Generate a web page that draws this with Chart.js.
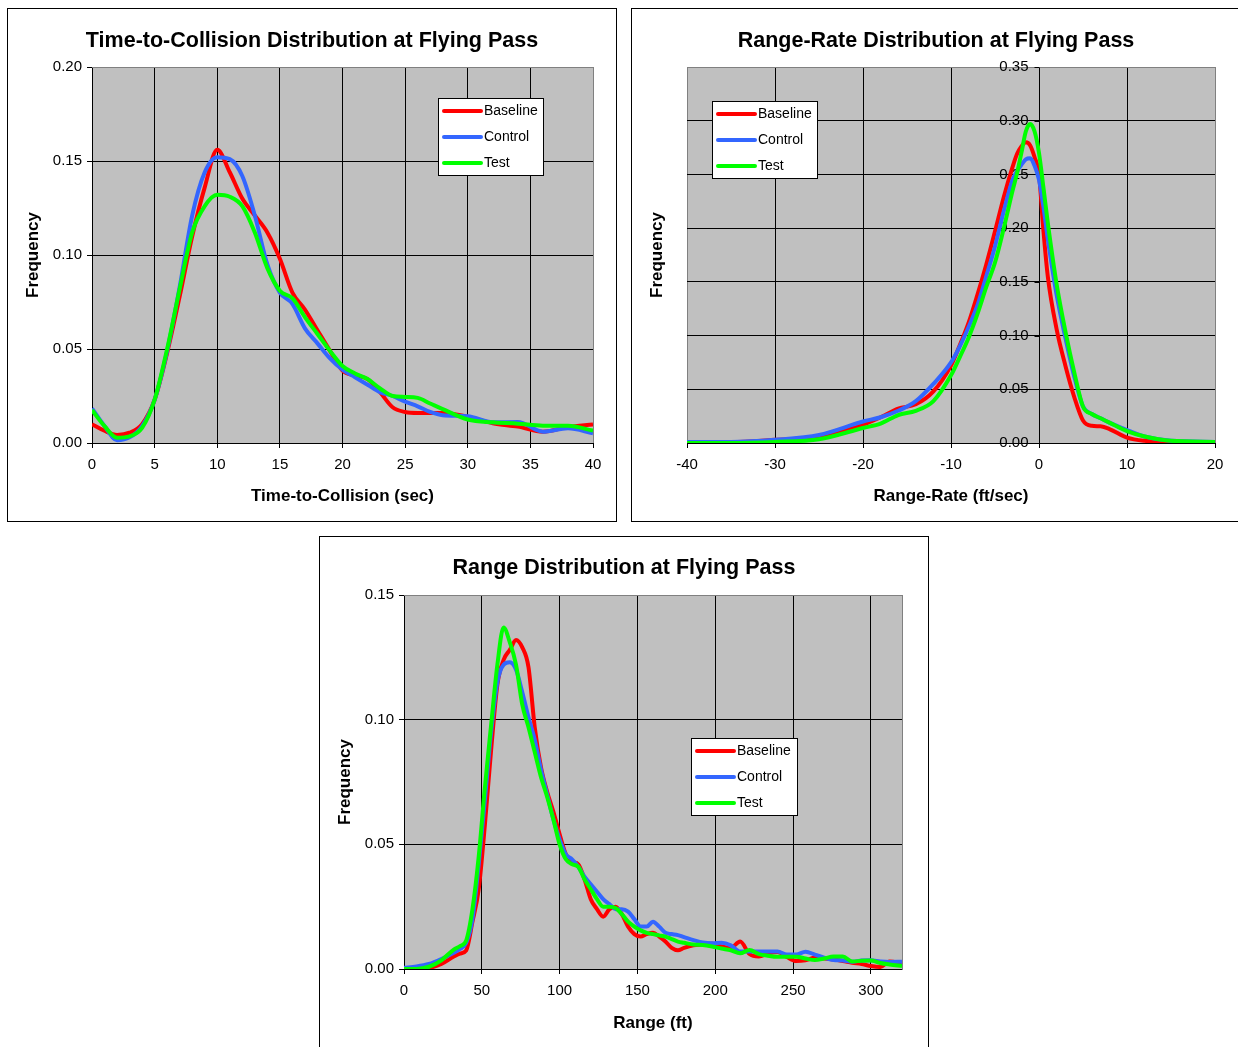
<!DOCTYPE html>
<html>
<head>
<meta charset="utf-8">
<title>Flying Pass Distributions</title>
<script src="https://cdn.jsdelivr.net/npm/chart.js@4.4.0/dist/chart.umd.min.js"></script>
<style>
  body { margin: 0; background: #fff; width: 1238px; height: 1047px; overflow: hidden; position: relative; }
  .panel { position: absolute; width: 610px; height: 514px; border: 1px solid #000; box-sizing: border-box; background: #fff; }
  .panel .wrap { position: relative; width: 100%; height: 100%; }
</style>
</head>
<body>
<div class="panel" style="left:7px; top:8px;"><div class="wrap"><canvas id="ttcChart"></canvas></div></div>
<div class="panel" style="left:631px; top:8px;"><div class="wrap"><canvas id="rateChart"></canvas></div></div>
<div class="panel" style="left:319px; top:536px;"><div class="wrap"><canvas id="rangeChart"></canvas></div></div>

<script>
const seriesNames = ["Baseline", "Control", "Test"];
const seriesColors = ["#ff0000", "#3366ff", "#00ff00"];

// time-to-collision (sec)
const ttcXTicks = [0, 5, 10, 15, 20, 25, 30, 35, 40];
const ttcYTicks = [0, 0.05, 0.10, 0.15, 0.20];
const ttcX = [0,1,2,3,4,5,6,7,8,9,10,11,12,13,14,15,16,17,18,19,20,21,22,23,24,25,26,27,28,30,32,34,36,38,40];
const ttcBaseline = [0.0100,0.0065,0.0043,0.0055,0.0100,0.0230,0.0480,0.0780,0.1100,0.1360,
  0.1560,0.1440,0.1300,0.1210,0.1120,0.0980,0.0800,0.0710,0.0600,0.0490,
  0.0385,0.0360,0.0340,0.0270,0.0190,0.0165,0.0160,0.0160,0.0160,
  0.0140,0.0105,0.0087,0.0060,0.0085,0.0099];
const ttcControl = [0.0184,0.0090,0.0015,0.0030,0.0090,0.0230,0.0490,0.0830,0.1210,0.1440,
  0.1520,0.1510,0.1420,0.1210,0.0950,0.0800,0.0740,0.0610,0.0530,0.0450,
  0.0390,0.0350,0.0310,0.0270,0.0250,0.0220,0.0195,0.0165,0.0148,
  0.0142,0.0110,0.0112,0.0060,0.0078,0.0052];
const ttcTest = [0.0175,0.0090,0.0028,0.0035,0.0080,0.0230,0.0500,0.0820,0.1120,0.1260,
  0.1320,0.1310,0.1260,0.1120,0.0930,0.0810,0.0770,0.0670,0.0580,0.0490,
  0.0410,0.0370,0.0340,0.0290,0.0250,0.0245,0.0240,0.0210,0.0180,
  0.0125,0.0110,0.0103,0.0092,0.0092,0.0066];

// range-rate (ft/sec)
const rateXTicks = [-40, -30, -20, -10, 0, 10, 20];
const rateYTicks = [0, 0.05, 0.10, 0.15, 0.20, 0.25, 0.30, 0.35];
const rateX = [-40,-35,-30,-25,-20,-18,-16,-14,-12,-10,-9,-8,-7,-6,-5,-4,-3,-2.5,-2,-1.5,-1,-0.5,0,0.5,1,2,3,4,5,6,7,8,10,12,15,20];
const rateBaseline = [0.001,0.001,0.003,0.006,0.017, 0.024,0.032,0.036,0.048,0.072,
  0.091,0.112,0.138,0.166,0.197, 0.229,0.257,0.269,0.276,0.280,
  0.277,0.266,0.250,0.198,0.155, 0.106,0.072,0.043,0.021,0.016,
  0.0155,0.013,0.005,0.002,0.001, 0.0005];
const rateControl = [0.001,0.001,0.003,0.0075,0.020, 0.024,0.030,0.039,0.055,0.075,
  0.090,0.108,0.128,0.155,0.183, 0.216,0.245,0.253,0.259,0.264,
  0.265,0.258,0.245,0.220,0.190, 0.138,0.098,0.062,0.034,0.027,
  0.023,0.019,0.012,0.006,0.002, 0.001];
const rateTest = [0.000,0.000,0.001,0.0035,0.014, 0.018,0.026,0.030,0.039,0.063,
  0.080,0.098,0.120,0.145,0.168, 0.200,0.235,0.251,0.270,0.290,
  0.297,0.290,0.270,0.238,0.205, 0.148,0.104,0.066,0.034,0.027,
  0.023,0.019,0.011,0.006,0.002, 0.001];

// range (ft)
const rangeXTicks = [0, 50, 100, 150, 200, 250, 300];
const rangeYTicks = [0, 0.05, 0.10, 0.15];
const rangeX = [0,8,16,24,32,36,40,44,48,52,56,60,64,68,72,76,80,84,88,92,96,100,104,108,112,
  116,120,124,128,132,136,140,144,148,152,156,160,164,168,172,176,180,186,192,198,
  204,210,216,222,228,234,240,246,252,258,264,270,276,282,288,294,300,306,312,320];
const rangeBaseline = [0,0,0.0004,0.002,0.005, 0.0062,0.0075,0.019,0.032,0.058,
  0.088,0.114,0.124,0.128,0.132, 0.129,0.121,0.097,0.081,0.071,
  0.063,0.054,0.046,0.043,0.042, 0.036,0.028,0.024,0.021,0.024,
  0.025,0.022,0.017,0.014,0.013, 0.014,0.0145,0.013,0.011,0.0085,
  0.0075,0.0085,0.0095,0.0098,0.0102, 0.009,0.0085,0.011,0.006,0.005,
  0.0062,0.0068,0.0048,0.0032,0.0035, 0.0045,0.0042,0.0038,0.0032,0.0025,
  0.002,0.0012,0.0008,0.003,0.0023];
const rangeControl = [0.0005,0.001,0.002,0.004,0.0065, 0.008,0.0105,0.020,0.042,0.068,
  0.095,0.115,0.122,0.123,0.120, 0.111,0.101,0.092,0.080,0.070,
  0.060,0.052,0.046,0.044,0.041, 0.037,0.034,0.031,0.028,0.026,
  0.024,0.024,0.023,0.020,0.017, 0.017,0.019,0.017,0.0145,0.014,
  0.0136,0.0128,0.0116,0.0106,0.0103, 0.0105,0.0095,0.007,0.007,0.007,
  0.007,0.007,0.0058,0.0058,0.0069, 0.0058,0.0045,0.0036,0.0034,0.0029,
  0.0034,0.0035,0.003,0.0028,0.0029];
const rangeTest = [0,0,0.0009,0.0035,0.0078, 0.0092,0.0115,0.024,0.045,0.073,
  0.098,0.122,0.137,0.131,0.122, 0.106,0.097,0.087,0.077,0.069,
  0.060,0.050,0.044,0.042,0.041, 0.036,0.032,0.028,0.025,0.025,
  0.0245,0.022,0.019,0.017,0.0155, 0.0145,0.014,0.0135,0.013,0.012,
  0.011,0.0105,0.0098,0.0096,0.009, 0.0082,0.0075,0.0063,0.0076,0.006,
  0.0053,0.0049,0.0049,0.0049,0.0042, 0.0036,0.0042,0.005,0.005,0.003,
  0.0033,0.0034,0.0024,0.0018,0.0012];

const FAMILY = '"Liberation Sans", Arial, sans-serif';
Chart.defaults.font.family = FAMILY;
Chart.defaults.color = "#000";

// grey plot area with a thin grey frame
const plotFrame = {
  id: "plotFrame",
  beforeDraw(chart) {
    const { ctx, chartArea: a } = chart;
    ctx.save();
    ctx.fillStyle = "#c0c0c0";
    ctx.fillRect(a.left, a.top, a.width, a.height);
    ctx.strokeStyle = "#808080";
    ctx.lineWidth = 1;
    ctx.strokeRect(Math.round(a.left) + 0.5, Math.round(a.top) + 0.5, Math.round(a.width), Math.round(a.height));
    ctx.restore();
  }
};

// y labels and tick marks for an axis that crosses the plot at x = opts.at
const crossAxisLabels = {
  id: "crossAxisLabels",
  beforeDatasetsDraw(chart, args, opts) {
    const { ctx, scales: { x: xs, y: ys } } = chart;
    const px = Math.round(xs.getPixelForValue(opts.at)) + 0.5;
    ctx.save();
    ctx.strokeStyle = "#000";
    ctx.lineWidth = 1;
    ctx.fillStyle = "#000";
    ctx.font = "15px " + FAMILY;
    ctx.textAlign = "right";
    ctx.textBaseline = "middle";
    ys.ticks.forEach(t => {
      const py = ys.getPixelForValue(t.value);
      ctx.beginPath();
      ctx.moveTo(px - 5, Math.round(py) + 0.5);
      ctx.lineTo(px, Math.round(py) + 0.5);
      ctx.stroke();
      ctx.fillText(t.label, px - 11, py);
    });
    ctx.restore();
  }
};

// boxed legend sitting inside the plot area
const boxLegend = {
  id: "boxLegend",
  afterDatasetsDraw(chart, args, opts) {
    const { ctx, chartArea: a } = chart;
    const x = Math.round(a.left + opts.dx), y = Math.round(a.top + opts.dy);
    ctx.save();
    ctx.fillStyle = "#fff";
    ctx.fillRect(x, y, opts.w, opts.h);
    ctx.strokeStyle = "#000";
    ctx.lineWidth = 1;
    ctx.strokeRect(x + 0.5, y + 0.5, opts.w - 1, opts.h - 1);
    ctx.font = "14px " + FAMILY;
    ctx.textBaseline = "middle";
    chart.data.datasets.forEach((ds, i) => {
      const cy = y + 13 + i * 26;
      ctx.strokeStyle = ds.borderColor;
      ctx.lineWidth = 4;
      ctx.lineCap = "round";
      ctx.beginPath();
      ctx.moveTo(x + 6, cy);
      ctx.lineTo(x + 43, cy);
      ctx.stroke();
      ctx.fillStyle = "#000";
      ctx.fillText(ds.label, x + 46, cy);
    });
    ctx.restore();
  }
};

const near = (a, b) => Math.abs(a - b) < 1e-9;
const gridColor = (greyAt) => (c) => (c.tick && greyAt.some(v => near(v, c.tick.value))) ? "#808080" : "#000";
const useTicks = (values) => (s) => { s.ticks = values.map(v => ({ value: v })); };

const tickFont = { size: 15 };
const axisTitleFont = { size: 17, weight: "bold" };

function makeDatasets(xs, ys) {
  return ys.map((vals, i) => ({
    label: seriesNames[i],
    data: xs.map((x, j) => ({ x: x, y: vals[j] })),
    borderColor: seriesColors[i],
    backgroundColor: seriesColors[i],
    borderWidth: 4,
    pointRadius: 0,
    cubicInterpolationMode: "monotone",
    order: 3 - i,
    fill: false
  }));
}

function drawPanel(id, p) {
  const crossing = p.yCross !== undefined;
  const yMax = p.yTicks[p.yTicks.length - 1];
  const scales = {
    x: {
      type: "linear",
      min: p.xMin, max: p.xMax,
      afterBuildTicks: useTicks(p.xTicks),
      ticks: { padding: 8, font: tickFont, maxRotation: 0, autoSkip: false, callback: v => String(v) },
      grid: { color: gridColor(p.xGrey), tickColor: "#000", tickLength: 5, lineWidth: 1 },
      border: { display: false },
      title: { display: true, text: p.xTitle, font: axisTitleFont, padding: { top: 0, bottom: p.xTitlePad } },
      afterFit: s => { s.height = p.xHeight; s.paddingRight = p.padRight; }
    },
    y: {
      type: "linear",
      position: "left",
      min: 0, max: yMax,
      afterBuildTicks: useTicks(p.yTicks),
      ticks: { display: !crossing, padding: 5, font: tickFont, callback: v => v.toFixed(2) },
      grid: { color: gridColor([yMax]), tickColor: "#000", tickLength: 5, lineWidth: 1, drawTicks: !crossing },
      border: { display: false },
      title: { display: true, text: "Frequency", font: axisTitleFont, padding: { top: 15, bottom: 0 } },
      afterFit: s => { s.width = p.yWidth; }
    }
  };
  const plugins = [plotFrame, boxLegend];
  if (crossing) plugins.push(crossAxisLabels);
  new Chart(document.getElementById(id), {
    type: "line",
    data: { datasets: makeDatasets(p.xs, p.ys) },
    options: {
      responsive: true,
      maintainAspectRatio: false,
      animation: false,
      layout: { padding: 0 },
      scales: scales,
      plugins: {
        legend: { display: false },
        tooltip: { enabled: false },
        title: {
          display: true,
          text: p.title,
          font: { size: 21.5, weight: "bold" },
          color: "#000",
          padding: { top: p.titleTop, bottom: p.titleBottom }
        },
        boxLegend: p.legend,
        crossAxisLabels: { at: p.yCross }
      }
    },
    plugins: plugins
  });
}

drawPanel("ttcChart", {
  title: "Time-to-Collision Distribution at Flying Pass",
  xs: ttcX, ys: [ttcBaseline, ttcControl, ttcTest],
  xMin: 0, xMax: 40, xTicks: ttcXTicks, xGrey: [40], yTicks: ttcYTicks,
  xTitle: "Time-to-Collision (sec)",
  yWidth: 84, xHeight: 78, xTitlePad: 14, padRight: 23,
  titleTop: 19.1, titleBottom: 13.1,
  legend: { dx: 346, dy: 31, w: 106, h: 78 }
});

drawPanel("rateChart", {
  title: "Range-Rate Distribution at Flying Pass",
  xs: rateX, ys: [rateBaseline, rateControl, rateTest],
  xMin: -40, xMax: 20, xTicks: rateXTicks, xGrey: [-40, 20], yTicks: rateYTicks, yCross: 0,
  xTitle: "Range-Rate (ft/sec)",
  yWidth: 55, xHeight: 78, xTitlePad: 14, padRight: 25,
  titleTop: 19.1, titleBottom: 13.1,
  legend: { dx: 25, dy: 34, w: 106, h: 78 }
});

drawPanel("rangeChart", {
  title: "Range Distribution at Flying Pass",
  xs: rangeX, ys: [rangeBaseline, rangeControl, rangeTest],
  xMin: 0, xMax: 320, xTicks: rangeXTicks, xGrey: [], yTicks: rangeYTicks,
  xTitle: "Range (ft)",
  yWidth: 84, xHeight: 80, xTitlePad: 15, padRight: 26,
  titleTop: 18.1, titleBottom: 14.1,
  legend: { dx: 287, dy: 143, w: 107, h: 78 }
});
</script>
</body>
</html>
